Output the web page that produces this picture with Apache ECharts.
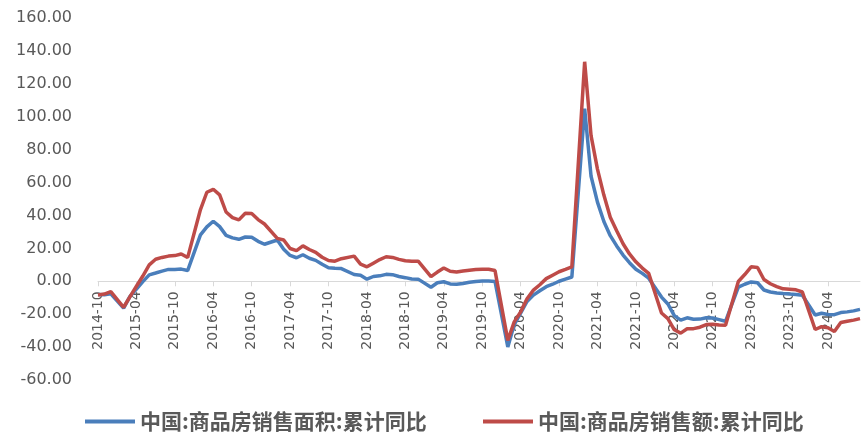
<!DOCTYPE html>
<html>
<head>
<meta charset="utf-8">
<script src="https://cdn.jsdelivr.net/npm/echarts@6/dist/echarts.min.js"></script>
<style>
  html, body { margin: 0; padding: 0; background: #fff; }
  #chart { width: 862px; height: 433px; }
</style>
</head>
<body>
<div id="chart"></div>
<script>
// months 2014-10 .. 2024-09, January has no cumulative figure (null)
const startYear = 2014
const startMonth = 10
const monthCount = 120

// 中国:商品房销售面积:累计同比 (%)
const areaYoY = [
  -8.0, -8.2, -7.6,
  null, -16.3, -9.2, -4.8, -0.2, 3.9, 5.0, 6.2, 7.2, 7.2, 7.4, 6.5,
  null, 28.2, 33.1, 36.5, 33.2, 27.9, 26.4, 25.5, 26.9, 26.8, 24.3, 22.5,
  null, 25.1, 19.5, 15.7, 14.3, 16.1, 14.0, 12.7, 10.3, 8.2, 7.9, 7.7,
  null, 4.1, 3.6, 1.3, 2.9, 3.3, 4.2, 4.0, 2.9, 2.2, 1.4, 1.3,
  null, -3.6, -0.9, -0.3, -1.6, -1.8, -1.3, -0.6, -0.1, 0.1, 0.2, -0.1,
  null, -39.9, -26.3, -19.3, -12.3, -8.4, -5.8, -3.3, -1.8, 0.0, 1.3, 2.6,
  null, 104.9, 63.8, 48.1, 36.3, 27.7, 21.5, 15.9, 11.3, 7.3, 4.8, 1.9,
  null, -9.6, -13.8, -20.9, -23.6, -22.2, -23.1, -23.0, -22.2, -22.3, -23.3, -24.3,
  null, -3.6, -1.8, -0.4, -0.9, -5.3, -6.5, -7.1, -7.5, -7.8, -8.0, -8.5,
  null, -20.5, -19.4, -20.2, -20.3, -19.0, -18.6, -18.0, -17.1
]

// 中国:商品房销售额:累计同比 (%)
const amountYoY = [
  -8.3, -7.8, -6.3,
  null, -15.8, -9.3, -3.0, 3.2, 10.0, 13.4, 14.5, 15.3, 15.6, 16.6, 14.4,
  null, 43.6, 54.1, 55.9, 52.5, 42.1, 38.7, 37.3, 41.3, 41.2, 37.5, 34.8,
  null, 26.1, 25.1, 19.9, 18.6, 21.5, 19.3, 17.6, 14.6, 12.6, 12.2, 13.7,
  null, 15.3, 10.4, 8.8, 11.0, 13.2, 14.9, 14.5, 13.3, 12.5, 12.1, 12.2,
  null, 2.8, 5.6, 8.1, 6.1, 5.6, 6.2, 6.7, 7.1, 7.3, 7.3, 6.5,
  null, -35.9, -24.7, -18.6, -10.6, -5.4, -2.1, 1.6, 3.7, 5.8, 7.2, 8.7,
  null, 133.4, 88.5, 68.2, 52.4, 38.9, 30.7, 22.8, 16.6, 11.8, 8.0, 4.8,
  null, -19.3, -22.7, -29.5, -31.5, -28.9, -28.8, -27.9, -26.3, -26.1, -26.6, -26.7,
  null, -0.1, 4.1, 8.8, 8.4, 1.1, -1.5, -3.2, -4.6, -4.9, -5.2, -6.5,
  null, -29.3, -27.6, -28.3, -30.5, -25.0, -24.3, -23.6, -22.7
]

const seriesNames = ['中国:商品房销售面积:累计同比', '中国:商品房销售额:累计同比']
const seriesColors = ['#4A7EBB', '#BE4B48']

const months = []
for (let i = 0; i < monthCount; i++) {
  const m = startMonth - 1 + i
  const y = startYear + Math.floor(m / 12)
  const mm = (m % 12) + 1
  months.push(y + '-' + (mm < 10 ? '0' + mm : mm))
}

const yMin = -60
const yMax = 160
const yStep = 20
const gridTop = 18
const gridBottom = 53
const chartHeight = 433
const textColor = '#595959'

// the category axis sits on the zero line; shift it up from the grid bottom
const plotHeight = chartHeight - gridTop - gridBottom
const zeroOffset = plotHeight * (0 - yMin) / (yMax - yMin)

const legendText = {
  color: textColor,
  fontSize: 21,
  fontWeight: 'bold',
  fontFamily: '"Noto Sans CJK SC", sans-serif'
}

const chart = echarts.init(document.getElementById('chart'))
chart.setOption({
  backgroundColor: '#fff',
  animation: false,
  grid: {
    left: 98,
    right: 2,
    top: gridTop,
    bottom: gridBottom
  },
  legend: [
    {
      left: 80,
      top: 406,
      itemWidth: 50,
      itemHeight: 4,
      icon: 'rect',
      textStyle: legendText,
      data: [seriesNames[0]]
    },
    {
      left: 478,
      top: 406,
      itemWidth: 50,
      itemHeight: 4,
      icon: 'rect',
      textStyle: legendText,
      data: [seriesNames[1]]
    }
  ],
  xAxis: {
    type: 'category',
    boundaryGap: false,
    data: months,
    position: 'bottom',
    offset: -zeroOffset,
    axisLine: {
      onZero: false,
      lineStyle: { color: '#d9d9d9', width: 1 }
    },
    axisTick: {
      show: true,
      interval: 5,
      length: 5,
      lineStyle: { color: '#d9d9d9' }
    },
    axisLabel: {
      interval: 5,
      rotate: 90,
      margin: 10,
      color: textColor,
      fontSize: 14,
      fontFamily: '"DejaVu Sans", sans-serif'
    },
    splitLine: { show: false }
  },
  yAxis: {
    type: 'value',
    min: yMin,
    max: yMax,
    interval: yStep,
    axisLine: { show: false },
    axisTick: { show: false },
    splitLine: { show: false },
    axisLabel: {
      margin: 26,
      color: textColor,
      fontSize: 16,
      fontFamily: '"DejaVu Sans", sans-serif',
      formatter: function(v) {
        return v.toFixed(2)
      }
    }
  },
  series: [
    {
      name: seriesNames[0],
      type: 'line',
      data: areaYoY,
      connectNulls: true,
      showSymbol: false,
      symbol: 'none',
      color: seriesColors[0],
      lineStyle: { color: seriesColors[0], width: 3.5 }
    },
    {
      name: seriesNames[1],
      type: 'line',
      data: amountYoY,
      connectNulls: true,
      showSymbol: false,
      symbol: 'none',
      color: seriesColors[1],
      lineStyle: { color: seriesColors[1], width: 3.5 }
    }
  ]
})
</script>
</body>
</html>
